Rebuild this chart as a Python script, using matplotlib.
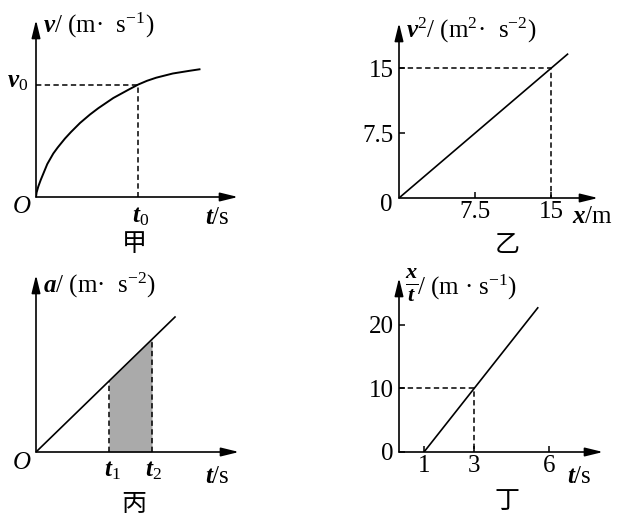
import numpy as np
import matplotlib.pyplot as plt

plt.rcParams['font.family'] = ['Liberation Serif', 'Noto Sans CJK SC', 'DejaVu Sans']
plt.rcParams['mathtext.fontset'] = 'custom'
plt.rcParams['mathtext.rm'] = 'Liberation Serif'
plt.rcParams['mathtext.it'] = 'Liberation Serif:italic'
plt.rcParams['mathtext.bf'] = 'Liberation Serif:bold:italic'

W, H = 623, 518

# 甲: v-t curve (arbitrary units)
t_jia = [0, 0.06, 0.23, 0.47, 1.13, 1.73, 2.17, 2.9, 3.5, 4.4, 5.4, 6.23,
         7.73, 9.23, 10.23, 11.1, 12.02, 13.68, 15.35, 16.35]
v_jia = [0, 0.45, 1.05, 1.7, 3.3, 4.35, 4.95, 5.85, 6.5, 7.4, 8.25, 8.88,
         9.9, 10.72, 11.25, 11.62, 11.93, 12.35, 12.62, 12.77]
t0, v0 = 10.23, 11.25

# 乙: v^2 - x line
x_yi = [0, 16.6]
v2_yi = [0, 16.6]
yi_mark = (15, 15)
yi_ticks = [7.5, 15]
yi_labels = ['7.5', '15']

# 丙: a-t line, shaded between t1 and t2
t_bing = [0, 13.9]
a_bing = [0, 13.5]
t1, t2 = 7.3, 11.6

# 丁: x/t - t line
t_ding = [1, 5.55]
xt_ding = [0, 22.7]
ding_mark = (3, 10)
ding_xticks = [1, 3, 6]
ding_yticks = [0, 10, 20]

FS = 18

fig = plt.figure(figsize=(6.23, 5.18), dpi=100)


def px(x, y):
    return x / W, 1 - y / H


def make_axes(ox, oy, right, top, xmax, ymax):
    l, b = px(ox, oy)
    ax = fig.add_axes([l, b, (right - ox) / W, (oy - top) / H])
    ax.set_xlim(0, xmax)
    ax.set_ylim(0, ymax)
    for s in ax.spines.values():
        s.set_visible(False)
    ax.patch.set_visible(False)
    ax.set_xticks([])
    ax.set_yticks([])
    ax.tick_params(direction='in', length=4, width=1.1, labelsize=FS)
    ax.tick_params(axis='x', pad=2)
    ax.tick_params(axis='y', pad=4)
    arrow = dict(arrowstyle='-|>,head_length=0.9,head_width=0.22', color='k',
                 lw=1.2, shrinkA=0, shrinkB=0, mutation_scale=12)
    ax.annotate('', xy=(1, 0), xytext=(0, 0), xycoords='axes fraction', arrowprops=arrow)
    ax.annotate('', xy=(0, 1), xytext=(0, 0), xycoords='axes fraction', arrowprops=arrow)
    return ax


def label(x, y, s, ha='center', va='center', size=FS):
    fig.text(*px(x, y), s, ha=ha, va=va, fontsize=size)


dash = dict(color='k', lw=1.1, ls=(0, (3.5, 2.2)))

# 甲
ax = make_axes(36, 197, 238, 20, 20.2, 17.7)
ax.plot(t_jia, v_jia, color='k', lw=1.4)
ax.plot([0, t0, t0], [v0, v0, 0], **dash)
label(43, 25, r'$\mathbf{v}$/ (m·  s$^{-1}$)', ha='left')
label(28, 82, r'$\mathbf{v}_0$', ha='right')
label(22, 207, r'$O$')
label(141, 217, r'$\mathbf{t}_0$')
label(217, 218, r'$\mathbf{t}$/s')
label(134, 245, '甲')

# 乙
ax = make_axes(399, 198, 598, 23, 19.6, 20.2)
ax.plot(x_yi, v2_yi, color='k', lw=1.2)
ax.plot([0, yi_mark[0], yi_mark[0]], [yi_mark[1], yi_mark[1], 0], **dash)
ax.set_xticks(yi_ticks, yi_labels)
ax.set_yticks(yi_ticks, yi_labels)
label(406, 30, r'$\mathbf{v}^2$/ (m$^2$·  s$^{-2}$)', ha='left')
label(386, 205, '0')
label(572, 217, r'$\mathbf{x}$/m', ha='left')
label(507, 246, '乙')

# 丙
ax = make_axes(36, 452, 239, 275, 20.3, 17.7)
ax.plot(t_bing, a_bing, color='k', lw=1.2)
t_fill = [t1, t2]
a_fill = np.interp(t_fill, t_bing, a_bing)
ax.fill_between(t_fill, 0, a_fill, color='#aaaaaa', lw=0)
for t, a in zip(t_fill, a_fill):
    ax.plot([t, t], [0, a], **dash)
label(43, 285, r'$\mathbf{a}$/ (m·  s$^{-2}$)', ha='left')
label(22, 463, r'$O$')
label(112, 471, r'$\mathbf{t}_1$')
label(153, 471, r'$\mathbf{t}_2$')
label(217, 477, r'$\mathbf{t}$/s')
label(134, 505, '丙')

# 丁
ax = make_axes(399, 452, 603, 278, 8.16, 27.4)
ax.plot(t_ding, xt_ding, color='k', lw=1.2)
ax.plot([0, ding_mark[0], ding_mark[0]], [ding_mark[1], ding_mark[1], 0], **dash)
ax.set_xticks(ding_xticks, [str(v) for v in ding_xticks])
ax.set_yticks(ding_yticks, [str(v) for v in ding_yticks])
label(405, 285, r'$\frac{\mathbf{x}}{\mathbf{t}}$', ha='left', size=23)
label(417, 287, r'/ (m · s$^{-1}$)', ha='left')
label(567, 477, r'$\mathbf{t}$/s', ha='left')
label(507, 502, '丁')

fig.savefig('out.png', dpi=100)
